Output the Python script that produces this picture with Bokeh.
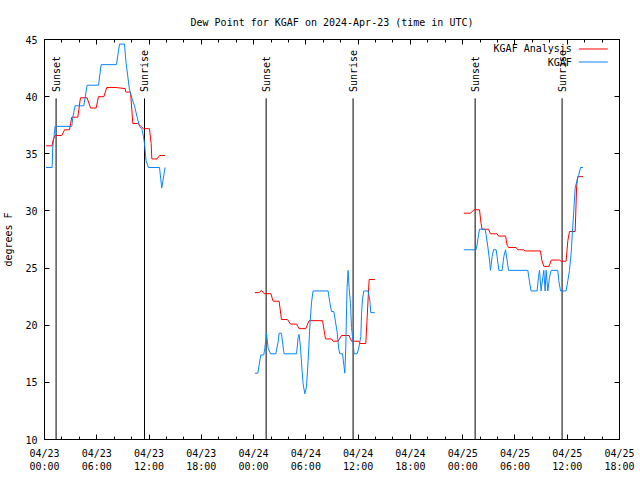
import math
import pandas as pd
from bokeh.plotting import figure
from bokeh.models import Range1d, FixedTicker, DatetimeTickFormatter, DatetimeAxis, LinearAxis
from bokeh.embed import file_html
from bokeh.resources import INLINE
from bokeh.core.properties import value

T0 = pd.Timestamp("2024-04-23 00:00")

# ---- data: hours since 2024-04-23 00:00 UTC, dew point (F) ----
ana_h1 = [0.18, 0.87, 0.99, 1.22, 1.99, 2.30, 2.87, 3.13, 3.82, 4.13, 4.89, 5.28, 5.92, 6.20, 6.81, 7.15,
          8.22, 9.25, 9.33, 9.87, 10.14, 10.71, 11.36, 12.05, 12.24, 12.32, 12.92, 13.20, 13.84]
ana_v1 = [35.7, 35.7, 36.2, 36.6, 36.6, 37.1, 37.1, 38.2, 38.2, 39.9, 39.9, 39.0, 39.0, 40.0, 40.0, 40.8,
          40.8, 40.7, 40.4, 40.4, 37.65, 37.65, 37.2, 37.2, 35.9, 34.55, 34.55, 34.85, 34.85]
obs_h1 = [0.18, 0.87, 0.95, 1.22, 3.13, 3.25, 3.51, 4.51, 4.89, 6.20, 6.50, 8.26, 8.61, 9.18, 9.37, 9.76,
          10.06, 10.33, 10.63, 10.90, 11.17, 11.36, 11.48, 11.66, 11.94, 13.20, 13.46, 13.84]
obs_v1 = [33.8, 33.8, 35.6, 37.4, 37.4, 38.2, 39.2, 39.2, 41.0, 41.0, 42.8, 42.8, 44.6, 44.6, 42.9, 40.6,
          39.8, 39.2, 38.2, 37.4, 37.2, 36.5, 35.9, 34.4, 33.8, 33.8, 32.0, 33.8]

ana_h2 = [24.14, 24.63, 24.91, 25.21, 25.98, 26.24, 26.93, 27.20, 27.89, 28.24, 28.93, 29.22, 29.99, 30.37,
          31.91, 32.25, 32.94, 33.13, 33.70, 34.09, 34.96, 35.24, 36.11, 36.19, 36.88, 37.26, 37.91]
ana_v2 = [22.85, 22.85, 23.05, 22.76, 22.76, 22.1, 22.1, 20.5, 20.5, 20.1, 20.1, 19.7, 19.7, 20.4,
          20.4, 18.8, 18.8, 18.6, 18.6, 19.1, 19.1, 18.6, 18.6, 18.4, 18.4, 24.0, 24.0]
obs_h2 = [24.14, 24.48, 24.63, 24.83, 25.17, 25.29, 25.48, 25.67, 25.94, 26.55, 26.81, 26.93, 27.20, 27.39,
          27.50, 28.93, 29.11, 29.22, 29.38, 29.57, 29.68, 29.88, 30.07, 30.26, 30.45, 30.65, 30.83, 32.55,
          32.75, 32.94, 33.21, 33.59, 33.78, 33.90, 34.21, 34.36, 34.47, 34.58, 34.73, 34.85, 34.96, 35.12,
          35.24, 35.35, 35.54, 35.88, 36.04, 36.31, 36.39, 36.50, 36.65, 37.14, 37.34, 37.45, 37.91]
obs_v2 = [15.8, 15.8, 16.5, 17.4, 17.4, 18.0, 19.3, 18.0, 17.5, 17.5, 18.5, 19.3, 19.3, 18.1,
          17.5, 17.5, 18.9, 19.2, 18.1, 16.0, 14.9, 14.0, 14.6, 16.9, 19.8, 22.0, 23.0, 23.0,
          22.0, 21.2, 21.2, 19.4, 17.9, 17.5, 17.5, 16.5, 15.8, 18.0, 23.3, 24.8, 23.3, 21.9,
          19.8, 19.0, 17.5, 17.5, 17.9, 19.0, 21.0, 22.3, 23.0, 23.0, 22.2, 21.1, 21.1]

ana_h3 = [48.13, 48.90, 49.16, 49.28, 49.93, 50.11, 50.22, 50.96, 51.19, 51.95, 52.11, 52.92, 53.10, 53.26,
          54.13, 54.33, 55.02, 55.13, 56.93, 57.08, 57.31, 57.91, 58.17, 59.11, 59.30, 59.87, 60.07, 60.26,
          60.91, 61.08, 61.20, 61.82]
ana_v3 = [29.8, 29.8, 30.0, 30.1, 30.1, 28.9, 28.4, 28.4, 28.0, 28.0, 27.8, 27.8, 27.0, 26.8,
          26.8, 26.6, 26.6, 26.5, 26.5, 25.7, 25.15, 25.15, 25.7, 25.7, 25.6, 25.6, 27.4, 28.2,
          28.2, 32.1, 33.0, 33.0]
obs_h3 = [48.13, 49.54, 49.66, 49.82, 49.93, 50.57, 50.69, 50.88, 51.08, 51.19, 51.38, 51.54, 51.84, 51.95,
          52.15, 52.53, 52.72, 52.92, 53.10, 53.26, 55.48, 55.67, 55.85, 56.54, 56.70, 56.82, 57.00, 57.20,
          57.31, 57.46, 57.58, 57.77, 57.97, 58.15, 58.92, 59.03, 59.23, 59.87, 60.07, 60.26, 60.45, 60.56,
          60.76, 60.91, 61.14, 61.30, 61.53, 61.82]
obs_v3 = [26.6, 26.6, 27.1, 27.9, 28.4, 28.4, 27.9, 26.9, 25.7, 24.8, 26.0, 26.6, 26.6, 26.0,
          24.8, 24.8, 26.0, 26.6, 25.7, 24.8, 24.8, 23.8, 23.0, 23.0, 24.2, 24.8, 23.0, 24.2,
          24.8, 23.0, 24.8, 23.0, 24.2, 24.8, 24.8, 23.9, 23.0, 23.0, 23.9, 24.8, 26.3, 27.7,
          30.1, 32.0, 32.7, 33.1, 33.8, 33.8]

sun_hours = [1.33, 11.48, 25.44, 35.42, 49.43, 59.41]
sun_labels = ["Sunset", "Sunrise", "Sunset", "Sunrise", "Sunset", "Sunrise"]

series_names = ["KGAF Analysis", "KGAF"]
series_colors = ["#ff0000", "#0a84ff"]

x_start_h, x_end_h = 0, 66
y_min, y_max = 10, 45


def to_dt(hours):
    return [T0 + pd.Timedelta(hours=h) for h in hours]


def to_ms(hours):
    return [(T0 + pd.Timedelta(hours=h)).value / 1e6 for h in hours]


FONT = "DejaVu Sans Mono"
FS = "10px"

p = figure(frame_width=575, frame_height=400, x_axis_type="datetime",
           output_backend="svg", toolbar_location=None,
           x_range=Range1d(*to_dt([x_start_h, x_end_h])), y_range=Range1d(y_min, y_max),
           min_border_left=39, min_border_right=16, min_border_top=39, min_border_bottom=33)
p.background_fill_color = "white"
p.border_fill_color = "white"
p.outline_line_color = "black"
p.xgrid.visible = False
p.ygrid.visible = False

p.title.text = "Dew Point for KGAF on 2024-Apr-23 (time in UTC)"
p.title.align = "center"
p.title.text_font = FONT
p.title.text_font_size = FS
p.title.text_font_style = "normal"
p.title.text_color = "black"
p.title.standoff = 24

xticker = FixedTicker(ticks=to_ms(range(0, 67, 6)), minor_ticks=to_ms(range(0, 67, 2)))
fmt = "%m/%d\n%H:%M"
xfmt = DatetimeTickFormatter(hours=fmt, hourmin=fmt, days=fmt, minutes=fmt, months=fmt, years=fmt)
yticker = FixedTicker(ticks=list(range(10, 46, 5)))

xa = p.xaxis[0]
xa.ticker = xticker
xa.formatter = xfmt
ya = p.yaxis[0]
ya.ticker = yticker
ya.axis_label = "degrees F"

for ax in (xa, ya):
    ax.major_label_text_font = FONT
    ax.major_label_text_font_size = FS
    ax.major_label_text_color = "black"
    ax.axis_label_text_font = FONT
    ax.axis_label_text_font_size = FS
    ax.axis_label_text_font_style = "normal"
    ax.axis_label_text_color = "black"
    ax.axis_line_color = "black"
    ax.major_tick_line_color = "black"
    ax.minor_tick_line_color = "black"
    ax.major_tick_out = 0
    ax.major_tick_in = 5
    ax.minor_tick_out = 0
    ax.minor_tick_in = 3
ya.minor_tick_line_color = None
xa.major_label_standoff = 8
ya.major_label_standoff = 7
ya.axis_label_standoff = 8

top = DatetimeAxis(ticker=xticker, formatter=xfmt, major_label_text_color=None,
                   major_label_text_font_size="1px",
                   major_tick_out=0, major_tick_in=5, minor_tick_out=0, minor_tick_in=3,
                   major_label_standoff=0)
right = LinearAxis(ticker=yticker, major_label_text_color=None, major_label_text_font_size="1px",
                   major_tick_out=0, major_tick_in=5, minor_tick_line_color=None,
                   major_label_standoff=0)
p.add_layout(top, "above")
p.add_layout(right, "right")

# sunset / sunrise markers
sun_x = to_dt(sun_hours)
p.segment(x0=sun_x, y0=[y_min] * 6, x1=sun_x, y1=[39.85] * 6, line_color="black", line_width=1)
p.text(x=sun_x, y=[40.4] * 6, text=sun_labels, angle=math.pi / 2, text_align="left",
       text_baseline="middle", text_font=value(FONT), text_font_size=FS, text_color="black")

# series
for h, v in ((ana_h1, ana_v1), (ana_h2, ana_v2), (ana_h3, ana_v3)):
    p.line(to_dt(h), v, line_color=series_colors[0], line_width=1)
for h, v in ((obs_h1, obs_v1), (obs_h2, obs_v2), (obs_h3, obs_v3)):
    p.line(to_dt(h), v, line_color=series_colors[1], line_width=1)

# legend (gnuplot style: text then sample line)
leg_y = [44.17, 43.03]
p.text(x=to_dt([60.53, 60.53]), y=leg_y, text=series_names, text_align="right",
       text_baseline="middle", text_font=value(FONT), text_font_size=FS, text_color="black")
p.segment(x0=to_dt([61.33, 61.33]), y0=leg_y, x1=to_dt([64.66, 64.66]), y1=leg_y,
          line_color=series_colors, line_width=1)

open("out.html", "w").write(file_html(p, INLINE))
